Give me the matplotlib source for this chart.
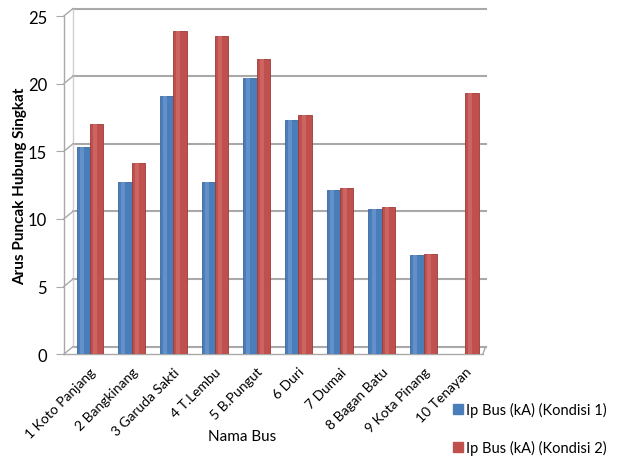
import matplotlib.pyplot as plt
from matplotlib.transforms import offset_copy
from matplotlib.lines import Line2D
import numpy as np

buses = ['1 Koto Panjang', '2 Bangkinang', '3 Garuda Sakti', '4 T.Lembu', '5 B.Pungut',
         '6 Duri', '7 Dumai', '8 Bagan Batu', '9 Kota Pinang', '10 Tenayan']
kondisi1 = [15.3, 12.7, 19.1, 12.7, 20.4, 17.3, 12.1, 10.7, 7.3, 0]
kondisi2 = [17.0, 14.1, 23.9, 23.5, 21.8, 17.7, 12.3, 10.9, 7.4, 19.3]
yticks = [0, 5, 10, 15, 20, 25]

plt.rcParams['font.family'] = ['Lato', 'DejaVu Sans']

fig = plt.figure(figsize=(6.2, 4.6), dpi=100)
ax = fig.add_axes([0.103, 0.228, 0.679, 0.735])

x = np.arange(len(buses))
xmin, xmax = -0.625, 9.47
ax.set_xlim(xmin, xmax)
ax.set_ylim(0, 25)

# pseudo-3D back wall: gridlines shifted up/right
back = offset_copy(ax.transData, fig=fig, x=0.10, y=0.075, units='inches')
grid_c = '#a9a9a9'


def connect(p_front, p_back):
    # line between two display points, drawn on the figure
    fig.add_artist(Line2D([p_front[0] / fig.bbox.width, p_back[0] / fig.bbox.width],
                          [p_front[1] / fig.bbox.height, p_back[1] / fig.bbox.height],
                          color=grid_c, lw=1.0))


for t in yticks:
    ax.plot([xmin - 0.02, xmax - 0.22], [t, t], color=grid_c, lw=1.5,
            transform=back, clip_on=False, zorder=1)
    connect(ax.transData.transform((xmin, t)), back.transform((xmin - 0.02, t)))
# back wall left edge
ax.plot([xmin - 0.02, xmin - 0.02], [0, 25], color='#d0d0d0', lw=1.0,
        transform=back, clip_on=False)
# floor front edge and right edge
ax.plot([xmin, xmax - 0.05], [0, 0], color=grid_c, lw=1.0, clip_on=False)
connect(ax.transData.transform((xmax - 0.05, 0)), back.transform((xmax - 0.22, 0)))

w = 0.32
blue = '#4a7ebb'
red = '#c0504d'
ax.bar(x - w / 2, kondisi1, w, color=blue, edgecolor='#3b679c', lw=0.6, zorder=3)
ax.bar(x + w / 2, kondisi2, w, color=red, edgecolor='#9a3a37', lw=0.6, zorder=3)
# soft highlight for a rounded look
ax.bar(x - w / 2 - w * 0.12, kondisi1, w * 0.3, color='#6390c8', lw=0, zorder=4)
ax.bar(x + w / 2 - w * 0.12, kondisi2, w * 0.3, color='#cc6461', lw=0, zorder=4)

for s in ['top', 'right', 'bottom']:
    ax.spines[s].set_visible(False)
ax.spines['left'].set_color(grid_c)
ax.spines['left'].set_linewidth(1.0)
ax.set_yticks(yticks)
ax.tick_params(axis='y', length=6, color=grid_c, labelsize=12, pad=6)
ax.set_xticks(x)
ax.set_xticklabels(buses, rotation=45, ha='right', va='top', rotation_mode='anchor',
                   fontsize=10)
ax.tick_params(axis='x', length=0, pad=8)

fig.text(0.032, 0.594, 'Arus Puncak Hubung Singkat', rotation=90, ha='center',
         va='center', fontsize=11, fontweight='bold')
fig.text(0.39, 0.05, 'Nama Bus', ha='center', va='center', fontsize=11)

handles = [Line2D([], [], marker='s', ls='', color=blue, markersize=7),
           Line2D([], [], marker='s', ls='', color=red, markersize=7)]
fig.legend(handles, ['Ip Bus (kA) (Kondisi 1)', 'Ip Bus (kA) (Kondisi 2)'],
           loc='center left', bbox_to_anchor=(0.705, 0.066), frameon=False,
           fontsize=10.5, labelspacing=1.55, handletextpad=0.1, handlelength=1.0)

fig.savefig('out.png', dpi=100)
